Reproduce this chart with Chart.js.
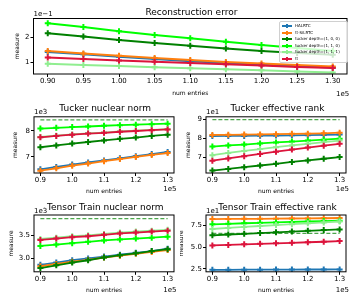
<!DOCTYPE html>
<html>
<head>
<meta charset="utf-8">
<script src="https://cdn.jsdelivr.net/npm/chart.js@4"></script>
<style>
  body { margin: 0; background: #fff; }
  #fig { position: relative; width: 358px; height: 303px; overflow: hidden; font-family: "DejaVu Sans", sans-serif; color: #000; }
  #fig canvas { position: absolute; }
  .txt { position: absolute; white-space: nowrap; line-height: 1; }
  .title { font-size: 9px; transform: translate(-50%, -50%); }
  .off { font-size: 7px; transform: translateY(-50%); }
  .offr { font-size: 7px; transform: translate(-100%, -50%); }
  #legend { position: absolute; left: 279px; top: 21px; width: 69px; height: 42px; box-sizing: border-box;
            border: 1px solid #d0d0d0; border-radius: 2px; background: rgba(255,255,255,0.8); z-index: 5; }
  .lrow { position: absolute; left: 0; height: 6px; width: 100%; }
  .lline { position: absolute; left: 2px; top: 2px; width: 10px; height: 2px; }
  .lph { position: absolute; left: 5px; top: 2px; width: 4px; height: 2px; }
  .lpv { position: absolute; left: 6px; top: 1px; width: 2px; height: 4px; }
  .ltxt { position: absolute; left: 15px; top: 0; font-size: 4px; line-height: 6px; }
</style>
</head>
<body>
<div id="fig"></div>
<script>
// x values are num entries / 1e5
const entries = [0.90, 0.95, 1.00, 1.05, 1.10, 1.15, 1.20, 1.25, 1.30];
const seriesNames = ["HALRTC", "tt-SiLRTC", "tucker depth=(1, 0, 0)", "tucker depth=(1, 1, 0)", "tucker depth=(1, 1, 1)", "tt"];
const seriesColors = ["#1f77b4", "#ff7f0e", "#008000", "#00ff00", "#90ee90", "#dc143c"];

const xTicksTop = [0.90, 0.95, 1.00, 1.05, 1.10, 1.15, 1.20, 1.25, 1.30];
const xTicksSmall = [0.9, 1.0, 1.1, 1.2, 1.3];

// Reconstruction error (x 1e-1)
const recHalrtc = [1.40, 1.31, 1.21, 1.12, 1.03, 0.96, 0.89, 0.83, 0.78];
const recTtsilrtc = [1.44, 1.34, 1.25, 1.16, 1.08, 1.00, 0.94, 0.88, 0.82];
const recTucker100 = [2.15, 2.02, 1.88, 1.76, 1.65, 1.54, 1.44, 1.36, 1.29];
const recTucker110 = [2.55, 2.40, 2.23, 2.08, 1.95, 1.81, 1.68, 1.56, 1.44];
const recTucker111 = [0.93, 0.88, 0.84, 0.79, 0.75, 0.71, 0.67, 0.62, 0.58];
const recTt = [1.18, 1.12, 1.06, 1.01, 0.96, 0.91, 0.86, 0.80, 0.76];
const recTicks = [1, 2];

// Tucker nuclear norm (x 1e3)
const tnnHalrtc = [6.53, 6.62, 6.71, 6.79, 6.87, 6.95, 7.03, 7.11, 7.19];
const tnnTtsilrtc = [6.48, 6.57, 6.67, 6.75, 6.84, 6.92, 7.00, 7.08, 7.15];
const tnnTucker100 = [7.37, 7.44, 7.51, 7.57, 7.63, 7.69, 7.74, 7.80, 7.85];
const tnnTucker110 = [8.08, 8.11, 8.14, 8.16, 8.19, 8.21, 8.23, 8.25, 8.27];
const tnnTucker111 = [7.76, 7.81, 7.86, 7.90, 7.93, 7.97, 8.00, 8.03, 8.06];
const tnnTt = [7.75, 7.80, 7.85, 7.89, 7.92, 7.96, 7.99, 8.02, 8.05];
const tnnBound = 8.41;
const tnnTicks = [7, 8];

// Tucker effective rank (x 1e1)
const terHalrtc = [8.12, 8.13, 8.13, 8.14, 8.15, 8.16, 8.17, 8.18, 8.20];
const terTtsilrtc = [8.18, 8.19, 8.20, 8.21, 8.22, 8.24, 8.25, 8.27, 8.30];
const terTucker100 = [6.28, 6.37, 6.46, 6.55, 6.64, 6.74, 6.82, 6.91, 7.00];
const terTucker110 = [7.56, 7.62, 7.67, 7.73, 7.78, 7.83, 7.88, 7.93, 7.98];
const terTucker111 = [7.10, 7.22, 7.33, 7.43, 7.53, 7.62, 7.71, 7.80, 7.88];
const terTt = [6.81, 6.93, 7.05, 7.17, 7.29, 7.40, 7.51, 7.61, 7.71];
const terBound = 9.0;
const terTicks = [7, 8, 9];

// Tensor Train nuclear norm (x 1e3)
const ttnHalrtc = [2.86, 2.91, 2.96, 3.00, 3.04, 3.08, 3.12, 3.16, 3.21];
const ttnTtsilrtc = [2.83, 2.88, 2.93, 2.97, 3.02, 3.06, 3.10, 3.14, 3.18];
const ttnTucker100 = [2.79, 2.85, 2.91, 2.96, 3.02, 3.07, 3.11, 3.16, 3.20];
const ttnTucker110 = [3.27, 3.30, 3.33, 3.36, 3.39, 3.41, 3.43, 3.45, 3.47];
const ttnTucker111 = [3.42, 3.45, 3.48, 3.50, 3.53, 3.56, 3.58, 3.60, 3.62];
const ttnTt = [3.40, 3.43, 3.46, 3.48, 3.51, 3.54, 3.56, 3.58, 3.60];
const ttnBound = 3.86;
const ttnTicks = [3.0, 3.5];

// Tensor Train effective rank (x 1e1)
const tteHalrtc = [2.40, 2.41, 2.42, 2.42, 2.43, 2.43, 2.44, 2.44, 2.45];
const tteTtsilrtc = [8.18, 8.19, 8.20, 8.21, 8.22, 8.24, 8.25, 8.27, 8.30];
const tteTucker100 = [6.33, 6.42, 6.50, 6.59, 6.67, 6.76, 6.84, 6.92, 7.00];
const tteTucker110 = [7.58, 7.64, 7.70, 7.75, 7.80, 7.85, 7.90, 7.95, 8.00];
const tteTucker111 = [7.05, 7.17, 7.28, 7.39, 7.50, 7.60, 7.70, 7.80, 7.90];
const tteTt = [5.18, 5.24, 5.30, 5.36, 5.42, 5.48, 5.54, 5.60, 5.68];
const tteBound = 6.55;
const tteTicks = [2.5, 5.0, 7.5];

const FONT = "DejaVu Sans";
const XH = 24;

const plots = [
  { title: "Reconstruction error", box: [33.5, 18.5, 349.3, 74], col: 0,
    series: [recHalrtc, recTtsilrtc, recTucker100, recTucker110, recTucker111, recTt], bound: null,
    yMin: 0.52, yMax: 2.74, yTicks: recTicks, yDec: 0, xTicks: xTicksTop, xDec: 2,
    yOff: "1e\u22121", ylabelX: 17.5, xlabelDy: 19.3, xOffDy: 20 },
  { title: "Tucker nuclear norm", box: [34, 116.8, 176.5, 173], col: 0,
    series: [tnnHalrtc, tnnTtsilrtc, tnnTucker100, tnnTucker110, tnnTucker111, tnnTt], bound: tnnBound,
    yMin: 6.39, yMax: 8.53, yTicks: tnnTicks, yDec: 0, xTicks: xTicksSmall, xDec: 1,
    yOff: "1e3", ylabelX: 15.7, xlabelDy: 18, xOffDy: 16.3 },
  { title: "Tucker effective rank", box: [206, 116.8, 349, 173], col: 180,
    series: [terHalrtc, terTtsilrtc, terTucker100, terTucker110, terTucker111, terTt], bound: terBound,
    yMin: 6.15, yMax: 9.15, yTicks: terTicks, yDec: 0, xTicks: xTicksSmall, xDec: 1,
    yOff: "1e1", ylabelX: 188.3, xlabelDy: 18, xOffDy: 16.3 },
  { title: "Tensor Train nuclear norm", box: [34, 215, 176.5, 271.8], col: 0,
    series: [ttnHalrtc, ttnTtsilrtc, ttnTucker100, ttnTucker110, ttnTucker111, ttnTt], bound: ttnBound,
    yMin: 2.71, yMax: 3.94, yTicks: ttnTicks, yDec: 1, xTicks: xTicksSmall, xDec: 1,
    yOff: "1e3", ylabelX: 11, xlabelDy: 18.5, xOffDy: 18.5 },
  { title: "Tensor Train effective rank", box: [206, 215, 349, 271.8], col: 180,
    series: [tteHalrtc, tteTtsilrtc, tteTucker100, tteTucker110, tteTucker111, tteTt], bound: tteBound,
    yMin: 2.18, yMax: 8.64, yTicks: tteTicks, yDec: 1, xTicks: xTicksSmall, xDec: 1,
    yOff: "1e1", ylabelX: 181, xlabelDy: 18.5, xOffDy: 18.5 }
];

// matplotlib style box around the axes
const frame = {
  id: "frame",
  afterDraw(chart) {
    const a = chart.chartArea, c = chart.ctx;
    c.save();
    c.strokeStyle = "#000";
    c.lineWidth = 1;
    c.strokeRect(a.left, a.top, a.right - a.left, a.bottom - a.top);
    c.restore();
  }
};

const fig = document.getElementById("fig");

function addText(cls, text, x, y) {
  const d = document.createElement("div");
  d.className = "txt " + cls;
  d.textContent = text;
  d.style.left = x + "px";
  d.style.top = y + "px";
  fig.appendChild(d);
}

plots.forEach(p => {
  const [l, t, r, b] = p.box;
  const top = Math.floor(t - 8);
  const padTop = t - top;
  const YW = l - p.col;
  const width = Math.ceil(r - p.col + 3);
  const height = Math.ceil(padTop + (b - t) + XH + 1);

  const cv = document.createElement("canvas");
  cv.width = width;
  cv.height = height;
  cv.style.left = p.col + "px";
  cv.style.top = top + "px";
  cv.style.width = width + "px";
  cv.style.height = height + "px";
  fig.appendChild(cv);

  const datasets = p.series.map((vals, i) => ({
    label: seriesNames[i],
    data: entries.map((x, j) => ({ x: x, y: vals[j] })),
    borderColor: seriesColors[i],
    backgroundColor: seriesColors[i],
    borderWidth: 1.8,
    pointStyle: "cross",
    pointRadius: 3,
    pointBorderWidth: 2,
    tension: 0,
    order: -i
  }));
  if (p.bound !== null) {
    datasets.push({
      label: "bound",
      data: entries.map(x => ({ x: x, y: p.bound })),
      borderColor: "rgba(0,128,0,0.7)",
      borderWidth: 1.3,
      borderDash: [4, 2],
      pointRadius: 0,
      order: 10
    });
  }

  new Chart(cv, {
    type: "line",
    data: { datasets: datasets },
    options: {
      responsive: false,
      animation: false,
      events: [],
      layout: { padding: { left: 0, top: padTop, right: width - (r - p.col), bottom: height - padTop - (b - t) - XH } },
      plugins: { legend: { display: false }, tooltip: { enabled: false } },
      scales: {
        x: {
          type: "linear",
          min: 0.88,
          max: 1.32,
          afterBuildTicks: s => { s.ticks = p.xTicks.map(v => ({ value: v })); },
          afterFit: s => { s.height = XH; },
          ticks: { font: { family: FONT, size: 7 }, color: "#000", padding: 0, maxRotation: 0, autoSkip: false,
                   callback: v => v.toFixed(p.xDec) },
          grid: { drawOnChartArea: false, drawTicks: true, tickLength: 3, color: "#000" },
          border: { display: false },
          title: { display: true, text: "num entries", color: "#000", font: { family: FONT, size: 6 },
                   padding: { top: 0, bottom: XH - p.xlabelDy - 3.6 } }
        },
        y: {
          min: p.yMin,
          max: p.yMax,
          afterBuildTicks: s => { s.ticks = p.yTicks.map(v => ({ value: v })); },
          afterFit: s => { s.width = YW; },
          ticks: { font: { family: FONT, size: 7 }, color: "#000", padding: 1,
                   callback: v => v.toFixed(p.yDec) },
          grid: { drawOnChartArea: false, drawTicks: true, tickLength: 3, color: "#000" },
          border: { display: false },
          title: { display: true, text: "measure", color: "#000", font: { family: FONT, size: 6 },
                   padding: { top: p.ylabelX - p.col - 3.6, bottom: 0 } }
        }
      }
    },
    plugins: [frame]
  });

  addText("title", p.title, (l + r) / 2, t - (p.col === 0 && t < 30 ? 6.5 : 8.5));
  addText("off", p.yOff, l, t - 4.5);
  addText("offr", "1e5", r, b + p.xOffDy);
});

// legend of the top plot
const legend = document.createElement("div");
legend.id = "legend";
seriesNames.forEach((name, i) => {
  const row = document.createElement("div");
  row.className = "lrow";
  row.style.top = (1 + i * 6.5) + "px";
  const c = seriesColors[i];
  row.innerHTML = '<div class="lline" style="background:' + c + '"></div>' +
    '<div class="lph" style="background:' + c + '"></div>' +
    '<div class="lpv" style="background:' + c + '"></div>' +
    '<div class="ltxt"></div>';
  row.querySelector(".ltxt").textContent = name;
  legend.appendChild(row);
});
fig.appendChild(legend);
</script>
</body>
</html>
